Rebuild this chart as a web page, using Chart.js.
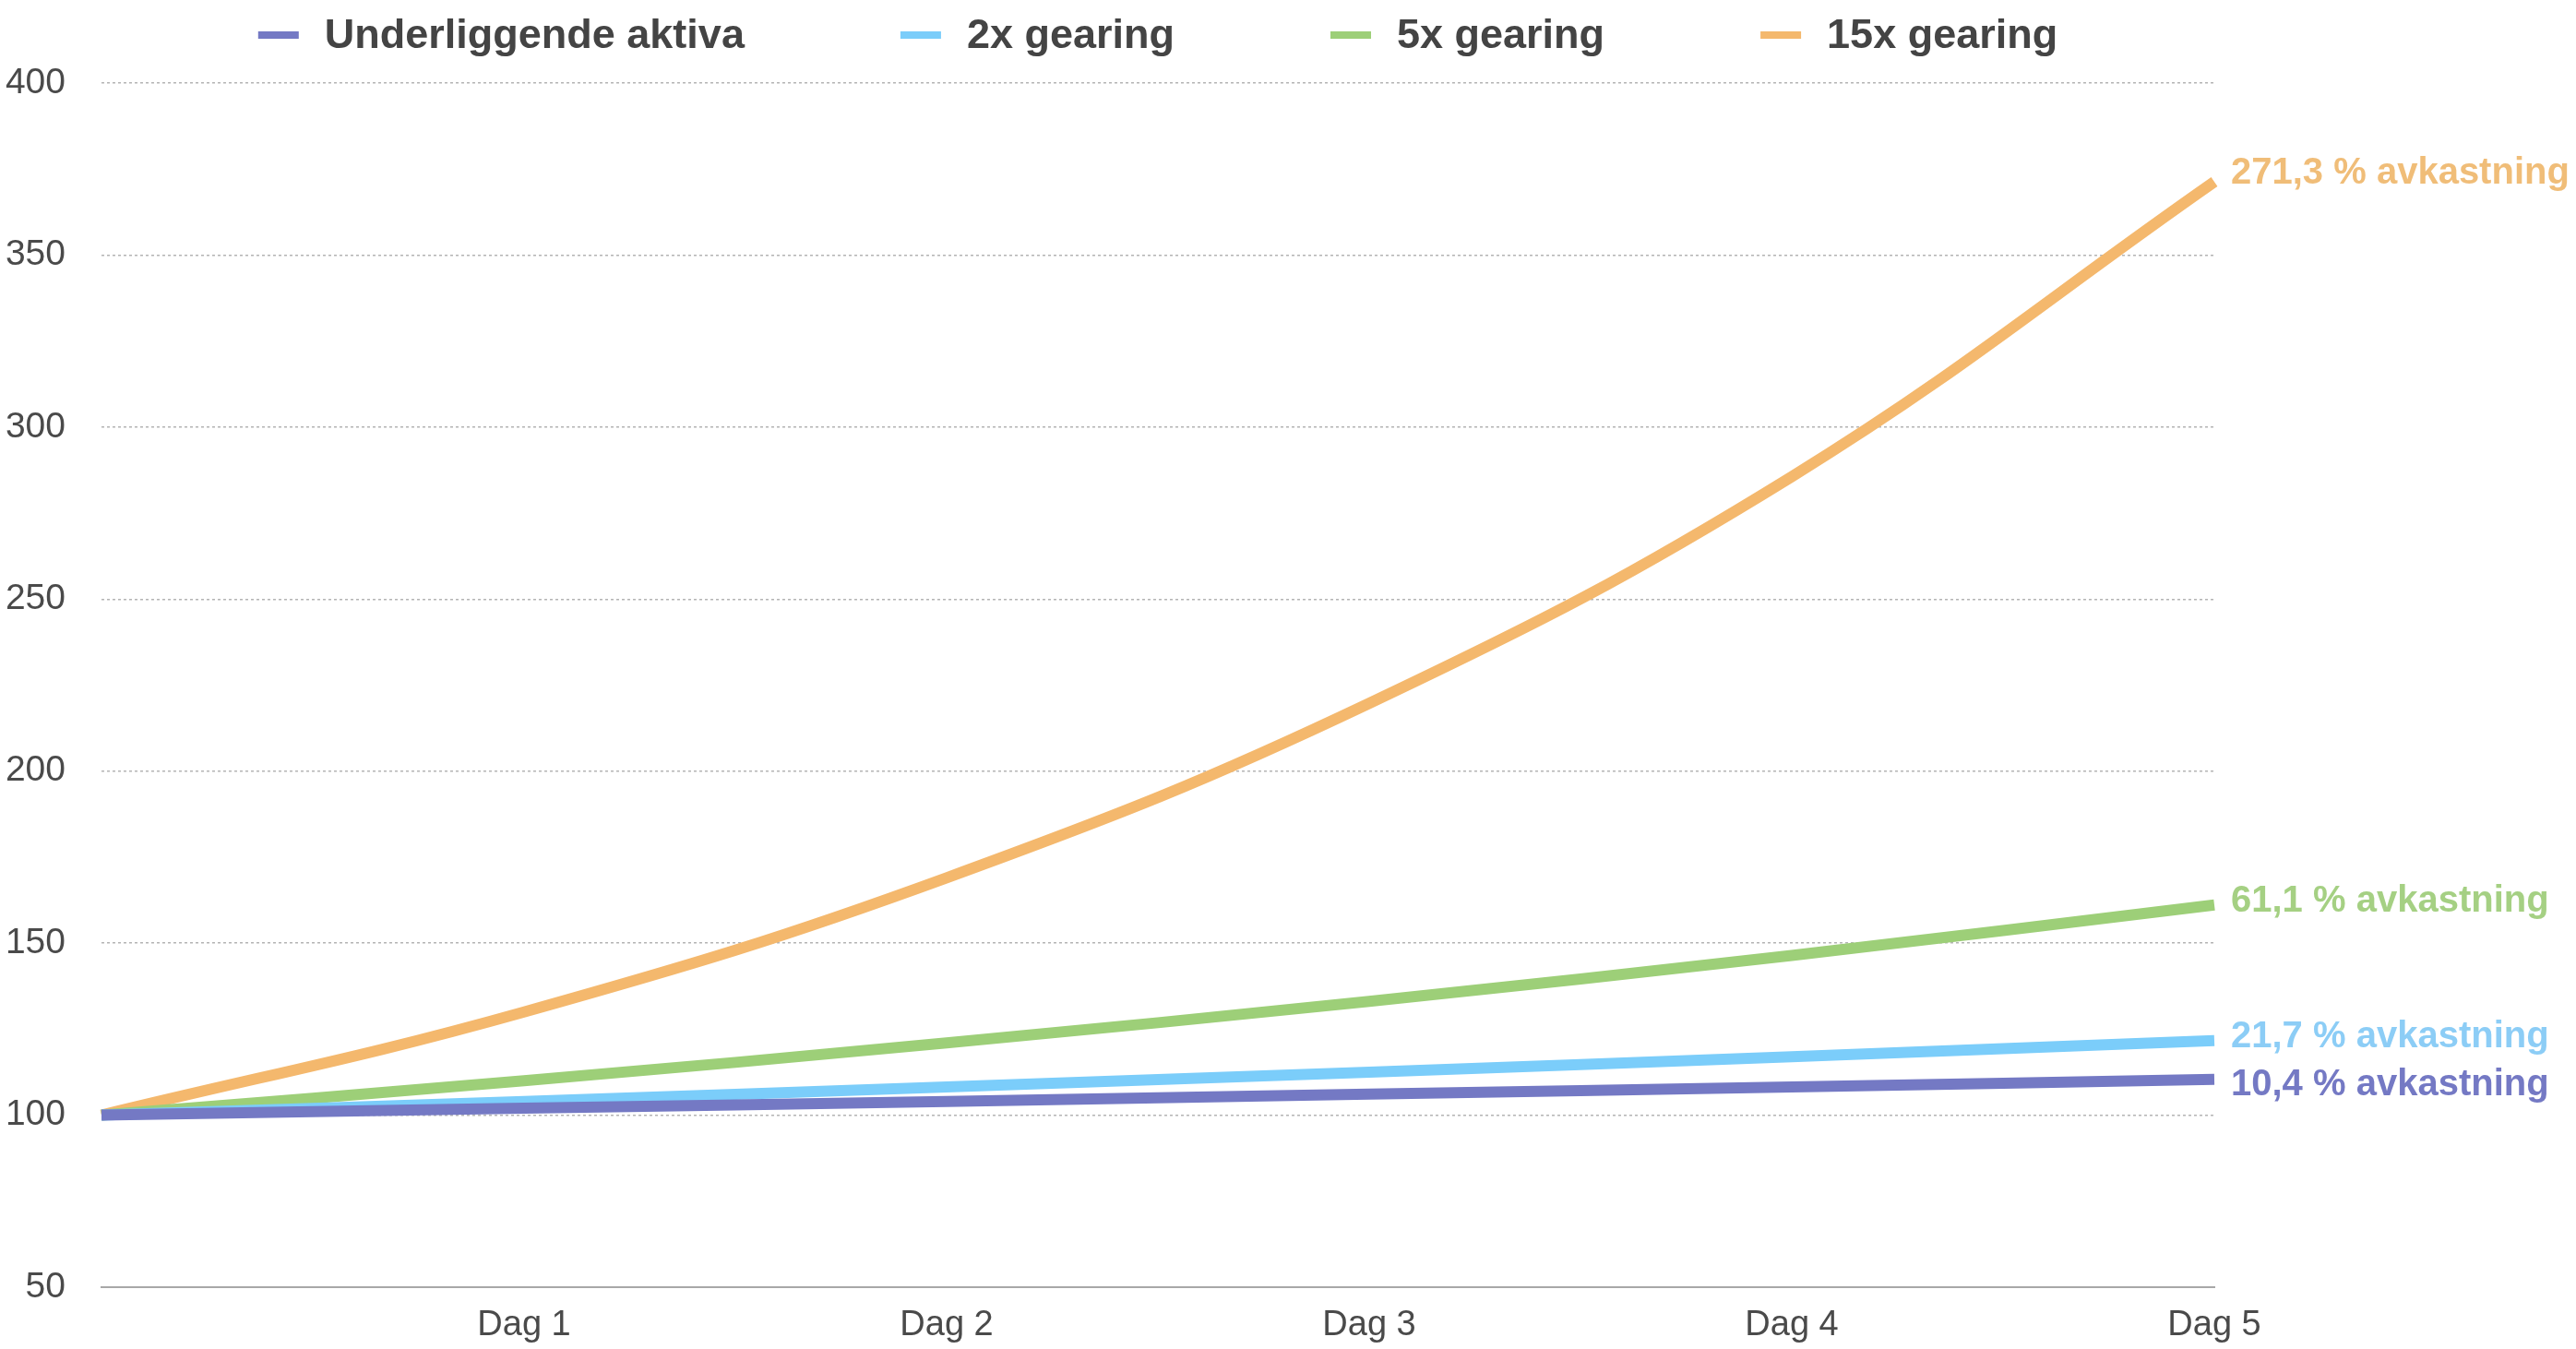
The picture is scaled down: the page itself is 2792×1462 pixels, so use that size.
<!DOCTYPE html>
<html>
<head>
<meta charset="utf-8">
<script src="https://cdn.jsdelivr.net/npm/chart.js@4.4.0/dist/chart.umd.min.js"></script>
<style>
  html, body { margin: 0; padding: 0; background: #fff; }
  #wrap { width: 2792px; height: 1462px; }
</style>
</head>
<body>
<div id="wrap"><canvas id="gearingChart"></canvas></div>
<script>
// Dager - første punkt er startverdien (ingen etikett)
const days = ['', 'Dag 1', 'Dag 2', 'Dag 3', 'Dag 4', 'Dag 5'];

// Verdier lest av grafen
const underlying = [100, 102, 104, 106.1, 108.2, 110.4];
const gearing2x = [100, 104, 108.2, 112.5, 117, 121.7];
const gearing5x = [100, 110, 121, 133.1, 146.4, 161.1];
const gearing15x = [100, 130, 169, 219.7, 285.6, 371.3];

const seriesNames = ['Underliggende aktiva', '2x gearing', '5x gearing', '15x gearing'];
const yMin = 50;
const yMax = 400;
const yStep = 50;

const lineColors = ['#7479c4', '#7bcdfa', '#9dcf78', '#f4b86d'];
const labelColors = ['#7479c4', '#8ccdf6', '#a5d083', '#f0bd78'];
const FONT = '"Liberation Sans", Arial, Helvetica, sans-serif';

// Egen legende øverst (sentrert over plottet)
const topLegend = {
    id: 'topLegend',
    afterDraw(chart) {
        const ctx = chart.ctx;
        const area = chart.chartArea;
        ctx.save();
        ctx.font = 'bold 45px ' + FONT;
        const boxW = 44, boxH = 8, gap = 28, spacing = 169;
        const widths = chart.data.datasets.map(ds => ctx.measureText(ds.label).width);
        const total = widths.reduce((s, w) => s + boxW + gap + w, 0) + spacing * (widths.length - 1);
        let x = (area.left + area.right) / 2 - total / 2;
        const y = 38;
        chart.data.datasets.forEach((ds, i) => {
            ctx.fillStyle = ds.borderColor;
            ctx.fillRect(x, y - boxH / 2, boxW, boxH);
            ctx.fillStyle = '#444444';
            ctx.textBaseline = 'middle';
            ctx.fillText(ds.label, x + boxW + gap, y + 2);
            x += boxW + gap + widths[i] + spacing;
        });
        ctx.restore();
    }
};

// Avkastning skrevet ved enden av hver linje
const endLabels = {
    id: 'endLabels',
    afterDatasetsDraw(chart) {
        const ctx = chart.ctx;
        const offsets = [6, -4, -4, -9];
        ctx.save();
        ctx.font = 'bold 40px ' + FONT;
        ctx.textBaseline = 'middle';
        chart.data.datasets.forEach((ds, i) => {
            const meta = chart.getDatasetMeta(i);
            const pt = meta.data[meta.data.length - 1];
            const first = ds.data[0];
            const last = ds.data[ds.data.length - 1];
            const pct = ((last - first) / first * 100).toFixed(1).replace('.', ',');
            ctx.fillStyle = labelColors[i];
            ctx.fillText(pct + ' % avkastning', pt.x + 18, pt.y + offsets[i]);
        });
        ctx.restore();
    }
};

const allSeries = [underlying, gearing2x, gearing5x, gearing15x];

const ctx = document.getElementById('gearingChart').getContext('2d');
const gearingChart = new Chart(ctx, {
    type: 'line',
    data: {
        labels: days,
        datasets: allSeries.map((values, i) => ({
            label: seriesNames[i],
            data: values,
            borderColor: lineColors[i],
            backgroundColor: lineColors[i],
            borderWidth: 12,
            pointRadius: 0,
            tension: 0.4,
            fill: false
        }))
    },
    options: {
        responsive: true,
        maintainAspectRatio: false,
        animation: false,
        devicePixelRatio: 1,
        layout: {
            padding: { top: 90, right: 392, left: 0, bottom: 0 }
        },
        plugins: {
            legend: { display: false },
            tooltip: { enabled: false }
        },
        scales: {
            x: {
                grid: { display: false, drawTicks: false },
                border: { display: true, color: '#a8a8a8', width: 2 },
                ticks: {
                    color: '#4a4a4a',
                    font: { family: FONT, size: 38 },
                    padding: 19,
                    maxRotation: 0,
                    autoSkip: false
                },
                afterFit(scale) { scale.height = 67; }
            },
            y: {
                min: yMin,
                max: yMax,
                ticks: {
                    stepSize: yStep,
                    color: '#4a4a4a',
                    font: { family: FONT, size: 39 },
                    padding: 39
                },
                grid: {
                    drawTicks: false,
                    lineWidth: 1.5,
                    color: c => (c.tick && c.tick.value === yMin) ? 'rgba(0,0,0,0)' : '#b4b4b4'
                },
                border: { display: false, dash: [3, 3] },
                afterFit(scale) { scale.width = 110; }
            }
        }
    },
    plugins: [topLegend, endLabels]
});
</script>
</body>
</html>
